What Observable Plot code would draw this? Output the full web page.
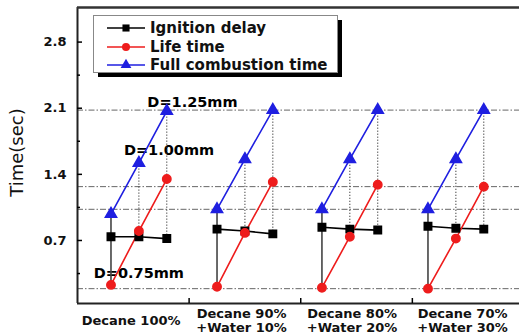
<!DOCTYPE html>
<html>
<head>
<meta charset="utf-8">
<script src="https://cdn.jsdelivr.net/npm/d3@7"></script>
<script src="https://cdn.jsdelivr.net/npm/@observablehq/plot@0.6"></script>
<style>
  html, body { margin: 0; padding: 0; background: #fff; }
  #wrap { position: relative; width: 519px; height: 335px; }
  #legend { position: absolute; left: 0; top: 0; }
</style>
</head>
<body>
<div id="wrap"></div>
<script>
// ---- data ----
const categories = ["Decane 100%", "Decane 90%\n+Water 10%", "Decane 80%\n+Water 20%", "Decane 70%\n+Water 30%"];
const diameters = ["D=0.75mm", "D=1.00mm", "D=1.25mm"];
const seriesNames = ["Ignition delay", "Life time", "Full combustion time"];
// x position of each point (per group, per diameter)
const xPositions = [[0.30, 0.55, 0.80], [1.25, 1.50, 1.75], [2.19, 2.44, 2.69], [3.14, 3.39, 3.64]];
const ignitionDelay = [[0.74, 0.74, 0.72], [0.82, 0.80, 0.77], [0.84, 0.82, 0.81], [0.85, 0.83, 0.82]];
const lifeTime = [[0.23, 0.80, 1.35], [0.21, 0.78, 1.32], [0.20, 0.74, 1.29], [0.19, 0.72, 1.27]];
const fullCombustion = [[0.98, 1.52, 2.07], [1.03, 1.56, 2.08], [1.03, 1.56, 2.08], [1.03, 1.56, 2.08]];
const refLines = [2.08, 1.27, 1.03, 0.19];
const yTicks = [0.7, 1.4, 2.1, 2.8];
const yMinorTicks = [0.35, 1.05, 1.75, 2.45];
const xTicks = [1, 2, 3];
const categoryPos = [0.48, 1.47, 2.46, 3.45];
const annotationX = [0.55, 0.82, 1.03];
const annotationY = [0.35, 1.65, 2.16];
const yLabel = "Time(sec)";

// ---- styling ----
const colors = ["#000000", "#ee1c1c", "#1f1fe0"];
const symbols = ["square", "circle", "triangle"];
const FONT = "DejaVu Sans";

// ---- build tables ----
const seriesValues = [ignitionDelay, lifeTime, fullCombustion];
const rows = [];
seriesValues.forEach((vals, s) => {
  vals.forEach((grp, g) => {
    grp.forEach((v, j) => {
      rows.push({series: seriesNames[s], key: s + "-" + g, group: g, d: j, x: xPositions[g][j], y: v});
    });
  });
});
const solidConn = [], dottedConn = [];
xPositions.forEach((grp, g) => {
  grp.forEach((x, j) => {
    if (j === 0) solidConn.push({x, y1: fullCombustion[g][j], y2: lifeTime[g][j]});
    else dottedConn.push({x, y1: fullCombustion[g][j], y2: ignitionDelay[g][j]});
  });
});
const annotations = diameters.map((t, i) => ({text: t, x: annotationX[i], y: annotationY[i]}));
const catLabels = categories.map((t, i) => ({text: t, x: categoryPos[i]}));

const yDomain = [0.033, 3.166];
const xDomain = [0, 3.96];

const chart = Plot.plot({
  width: 519,
  height: 335,
  marginLeft: 77,
  marginRight: 0,
  marginTop: 7,
  marginBottom: 32,
  style: {fontFamily: FONT, background: "#fff"},
  x: {domain: xDomain, label: null},
  y: {domain: yDomain, label: null},
  color: {domain: seriesNames, range: colors},
  symbol: {domain: seriesNames, range: symbols},
  marks: [
    Plot.ruleY(refLines, {stroke: "#666", strokeWidth: 1, strokeDasharray: "6,2,1.5,2"}),
    Plot.text(annotations, {x: "x", y: "y", text: "text", fontSize: 14.5, fontWeight: "bold", fill: "#000"}),
    Plot.ruleX(solidConn, {x: "x", y1: "y1", y2: "y2", stroke: "#444", strokeWidth: 1.6}),
    Plot.ruleX(dottedConn, {x: "x", y1: "y1", y2: "y2", stroke: "#333", strokeWidth: 1, strokeDasharray: "1.2,1.8"}),
    Plot.line(rows, {x: "x", y: "y", z: "key", stroke: "series", strokeWidth: 1.6}),
    Plot.dot(rows, {x: "x", y: "y", fill: "series", stroke: "series", symbol: "series", r: 4.2}),
    // frame (left, top, bottom)
    Plot.ruleX([xDomain[0]], {stroke: "#222", strokeWidth: 2}),
    Plot.ruleY([yDomain[0]], {stroke: "#222", strokeWidth: 2}),
    Plot.ruleY([yDomain[1]], {stroke: "#333", strokeWidth: 2.5}),
    // y axis
    Plot.axisY(yTicks, {tickSize: -5, tickFormat: () => "", strokeWidth: 1.5, label: null}),
    Plot.axisY(yMinorTicks, {tickSize: -3, tickFormat: () => "", strokeWidth: 1.5, label: null}),
    Plot.axisY(yTicks, {tickSize: 0, tickPadding: 11, tickFormat: d => d.toFixed(1), fontSize: 13, fontWeight: "bold", fill: "#111", label: null}),
    // x axis
    Plot.axisX(xTicks, {tickSize: -5, tickFormat: () => "", strokeWidth: 1.5, label: null}),
    Plot.text(catLabels, {x: "x", text: "text", frameAnchor: "bottom", dy: 17, lineAnchor: "middle", lineHeight: 1.1, fontSize: 13, fontWeight: "bold", fill: "#111"}),
    Plot.text([yLabel], {text: d => d, frameAnchor: "left", textAnchor: "middle", dx: -60, dy: -3, rotate: -90, fontSize: 18, fill: "#111"})
  ]
});
document.getElementById("wrap").appendChild(chart);

// ---- legend (overlay) ----
const lg = d3.select("#wrap").append("svg")
  .attr("id", "legend").attr("width", 519).attr("height", 90)
  .style("font-family", FONT);
lg.append("rect").attr("x", 98).attr("y", 20).attr("width", 244).attr("height", 57).attr("fill", "#000");
lg.append("rect").attr("x", 93.5).attr("y", 15.5).attr("width", 244).attr("height", 57)
  .attr("fill", "#fff").attr("stroke", "#888").attr("stroke-width", 1);
const rowY = [28, 47, 65];
const sym = [d3.symbolSquare, d3.symbolCircle, d3.symbolTriangle];
seriesNames.forEach((name, i) => {
  const g = lg.append("g").attr("transform", `translate(0,${rowY[i]})`);
  g.append("line").attr("x1", 107).attr("x2", 145).attr("y1", 0).attr("y2", 0)
    .attr("stroke", colors[i]).attr("stroke-width", 1.6);
  g.append("path").attr("transform", "translate(126,0)")
    .attr("d", d3.symbol(sym[i], Math.PI * 4 * 4)())
    .attr("fill", colors[i]);
  g.append("text").attr("x", 150).attr("y", 0).attr("dy", "0.36em")
    .attr("font-size", 15).attr("font-weight", "bold").attr("fill", "#111").text(name);
});
</script>
</body>
</html>
